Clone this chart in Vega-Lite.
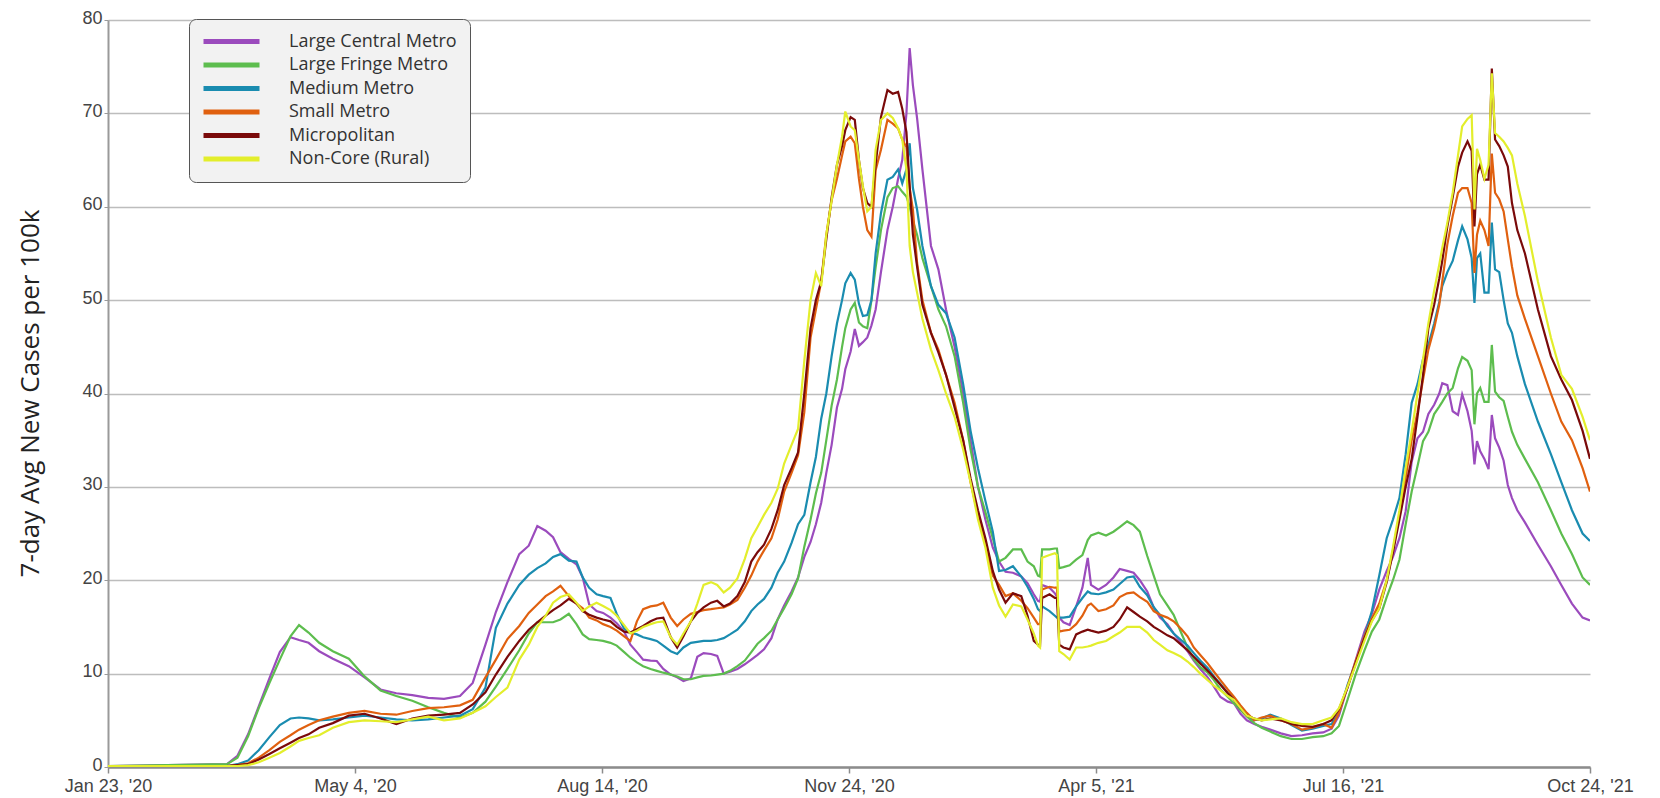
{
  "$schema": "https://vega.github.io/schema/vega-lite/v6.json",
  "width": 1482,
  "height": 747,
  "autosize": {"type": "none"},
  "padding": {"left": 108, "top": 20, "right": 70, "bottom": 31},
  "background": "white",
  "config": {"view": {"stroke": null}},
  "data": {"values": [
    {"d":0,"L":0.1,"F":0.1,"M":0.1,"S":0.1,"P":0.1,"R":0.1},
    {"d":51.4,"L":0.3,"F":0.3,"M":0.1,"S":0.1,"P":0.1,"R":0.1},
    {"d":55.9,"L":1.2,"F":1.0,"M":0.3,"S":0.2,"P":0.2,"R":0.1},
    {"d":60.5,"L":3.5,"F":3.3,"M":0.7,"S":0.4,"P":0.3,"R":0.2},
    {"d":65.1,"L":6.5,"F":6.3,"M":1.8,"S":1.0,"P":0.8,"R":0.5},
    {"d":69.7,"L":9.5,"F":9.0,"M":3.2,"S":1.8,"P":1.4,"R":1.0},
    {"d":74.2,"L":12.3,"F":11.5,"M":4.5,"S":2.7,"P":2.0,"R":1.5},
    {"d":78.8,"L":13.9,"F":14.0,"M":5.2,"S":3.4,"P":2.6,"R":2.2},
    {"d":82.5,"L":13.6,"F":15.2,"M":5.3,"S":4.0,"P":3.1,"R":2.8},
    {"d":86.6,"L":13.3,"F":14.4,"M":5.2,"S":4.5,"P":3.5,"R":3.1},
    {"d":91.2,"L":12.4,"F":13.3,"M":5.0,"S":5.0,"P":4.2,"R":3.4},
    {"d":97.1,"L":11.6,"F":12.4,"M":5.1,"S":5.4,"P":4.7,"R":4.2},
    {"d":104.0,"L":10.8,"F":11.6,"M":5.3,"S":5.8,"P":5.5,"R":4.8},
    {"d":110.8,"L":9.6,"F":9.7,"M":5.5,"S":6.0,"P":5.7,"R":5.0},
    {"d":117.7,"L":8.3,"F":8.2,"M":5.3,"S":5.7,"P":5.2,"R":4.9},
    {"d":124.5,"L":7.9,"F":7.6,"M":5.1,"S":5.6,"P":4.6,"R":4.8},
    {"d":131.4,"L":7.7,"F":7.1,"M":5.0,"S":6.0,"P":5.2,"R":5.1},
    {"d":138.3,"L":7.4,"F":6.4,"M":5.1,"S":6.3,"P":5.5,"R":5.4},
    {"d":145.1,"L":7.3,"F":5.8,"M":5.3,"S":6.4,"P":5.6,"R":5.0},
    {"d":152.0,"L":7.6,"F":5.3,"M":5.5,"S":6.6,"P":5.8,"R":5.2},
    {"d":157.5,"L":9.0,"F":5.8,"M":6.2,"S":7.2,"P":6.7,"R":5.8},
    {"d":163.0,"L":13.1,"F":7.0,"M":8.5,"S":9.6,"P":8.0,"R":6.5},
    {"d":167.5,"L":16.6,"F":8.6,"M":14.9,"S":11.5,"P":9.9,"R":7.5},
    {"d":172.5,"L":19.8,"F":10.5,"M":17.5,"S":13.7,"P":11.8,"R":8.5},
    {"d":177.6,"L":22.8,"F":12.5,"M":19.5,"S":15.1,"P":13.5,"R":11.5},
    {"d":181.7,"L":23.7,"F":14.3,"M":20.6,"S":16.5,"P":14.7,"R":13.1},
    {"d":185.4,"L":25.8,"F":15.5,"M":21.3,"S":17.4,"P":15.5,"R":15.0},
    {"d":189.0,"L":25.3,"F":15.5,"M":21.8,"S":18.3,"P":16.2,"R":16.2},
    {"d":192.2,"L":24.6,"F":15.5,"M":22.5,"S":18.8,"P":16.8,"R":17.6},
    {"d":195.4,"L":23.0,"F":15.8,"M":22.8,"S":19.4,"P":17.3,"R":18.2},
    {"d":199.0,"L":22.3,"F":16.4,"M":22.1,"S":18.3,"P":18.0,"R":18.5},
    {"d":202.3,"L":21.7,"F":15.3,"M":22.0,"S":17.5,"P":17.5,"R":17.6},
    {"d":205.0,"L":20.3,"F":14.2,"M":20.3,"S":17.0,"P":16.7,"R":16.7},
    {"d":207.8,"L":17.4,"F":13.7,"M":19.2,"S":16.0,"P":16.3,"R":17.2},
    {"d":211.0,"L":16.7,"F":13.6,"M":18.5,"S":15.7,"P":16.0,"R":17.6},
    {"d":213.8,"L":16.5,"F":13.5,"M":18.3,"S":15.3,"P":15.8,"R":17.25},
    {"d":217.0,"L":16.0,"F":13.3,"M":18.1,"S":15.0,"P":15.6,"R":16.8},
    {"d":219.7,"L":15.4,"F":13.0,"M":16.4,"S":14.6,"P":15.0,"R":16.2},
    {"d":222.9,"L":14.5,"F":12.3,"M":14.8,"S":14.0,"P":14.5,"R":15.2},
    {"d":225.6,"L":13.1,"F":11.7,"M":14.4,"S":13.5,"P":14.4,"R":14.3},
    {"d":228.4,"L":12.3,"F":11.2,"M":14.2,"S":15.6,"P":14.75,"R":14.6},
    {"d":231.1,"L":11.5,"F":10.8,"M":13.9,"S":16.9,"P":15.1,"R":15.0},
    {"d":234.3,"L":11.4,"F":10.5,"M":13.7,"S":17.2,"P":15.6,"R":15.3},
    {"d":237.0,"L":11.35,"F":10.3,"M":13.5,"S":17.3,"P":15.9,"R":15.5},
    {"d":239.8,"L":10.5,"F":10.1,"M":13.0,"S":17.6,"P":16.0,"R":15.6},
    {"d":243.0,"L":9.9,"F":9.9,"M":12.4,"S":16.0,"P":13.9,"R":13.9},
    {"d":245.8,"L":9.6,"F":9.7,"M":12.1,"S":15.1,"P":12.8,"R":13.1},
    {"d":248.5,"L":9.2,"F":9.4,"M":12.8,"S":15.8,"P":14.0,"R":14.3},
    {"d":251.7,"L":9.5,"F":9.4,"M":13.3,"S":16.4,"P":15.6,"R":15.6},
    {"d":254.5,"L":11.8,"F":9.6,"M":13.4,"S":16.6,"P":16.5,"R":17.5},
    {"d":257.2,"L":12.2,"F":9.75,"M":13.5,"S":16.8,"P":17.1,"R":19.5},
    {"d":260.4,"L":12.1,"F":9.8,"M":13.5,"S":16.9,"P":17.6,"R":19.8},
    {"d":263.1,"L":11.9,"F":9.9,"M":13.6,"S":17.0,"P":17.8,"R":19.5},
    {"d":265.9,"L":10.0,"F":10.0,"M":13.8,"S":17.1,"P":17.2,"R":18.7},
    {"d":268.6,"L":10.2,"F":10.3,"M":14.2,"S":17.4,"P":17.5,"R":19.2},
    {"d":271.8,"L":10.5,"F":10.8,"M":14.7,"S":17.9,"P":18.3,"R":20.2},
    {"d":275.0,"L":11.0,"F":11.4,"M":15.6,"S":19.2,"P":19.8,"R":22.3},
    {"d":277.8,"L":11.5,"F":12.3,"M":16.7,"S":20.5,"P":22.0,"R":24.5},
    {"d":280.5,"L":12.0,"F":13.2,"M":17.4,"S":22.0,"P":23.0,"R":25.7},
    {"d":283.3,"L":12.6,"F":13.8,"M":18.0,"S":23.2,"P":23.8,"R":27.0},
    {"d":286.5,"L":13.8,"F":14.6,"M":19.2,"S":24.5,"P":25.5,"R":28.3},
    {"d":289.2,"L":15.8,"F":15.8,"M":20.8,"S":26.5,"P":27.5,"R":29.8},
    {"d":292.0,"L":17.3,"F":17.0,"M":22.0,"S":29.5,"P":30.2,"R":32.5},
    {"d":295.2,"L":18.8,"F":18.5,"M":24.0,"S":31.5,"P":32.0,"R":34.5},
    {"d":298.0,"L":20.3,"F":20.2,"M":26.0,"S":33.4,"P":33.7,"R":36.2},
    {"d":300.7,"L":22.5,"F":23.6,"M":27.0,"S":38.0,"P":40.0,"R":43.5},
    {"d":303.4,"L":24.1,"F":26.5,"M":30.5,"S":46.0,"P":47.0,"R":50.0},
    {"d":305.7,"L":26.0,"F":29.3,"M":33.2,"S":49.0,"P":50.0,"R":52.9},
    {"d":308.0,"L":28.3,"F":31.5,"M":37.3,"S":52.0,"P":52.0,"R":51.5},
    {"d":310.2,"L":31.5,"F":35.0,"M":40.0,"S":57.0,"P":56.5,"R":57.0},
    {"d":312.5,"L":34.5,"F":38.7,"M":44.0,"S":60.7,"P":61.0,"R":60.7},
    {"d":314.8,"L":38.5,"F":41.5,"M":47.5,"S":63.0,"P":64.5,"R":64.5},
    {"d":317.0,"L":40.5,"F":45.0,"M":50.0,"S":65.5,"P":66.5,"R":67.5},
    {"d":318.4,"L":42.6,"F":47.0,"M":51.8,"S":67.0,"P":68.2,"R":70.2},
    {"d":320.7,"L":44.5,"F":49.0,"M":52.9,"S":67.5,"P":69.6,"R":68.6},
    {"d":322.5,"L":46.9,"F":49.7,"M":52.2,"S":66.8,"P":69.3,"R":68.2},
    {"d":324.3,"L":45.1,"F":47.6,"M":49.6,"S":63.0,"P":65.0,"R":65.0},
    {"d":326.0,"L":45.5,"F":47.2,"M":48.3,"S":60.0,"P":62.0,"R":62.2},
    {"d":327.9,"L":46.0,"F":47.0,"M":48.4,"S":57.5,"P":60.4,"R":59.5},
    {"d":329.7,"L":47.3,"F":50.0,"M":50.0,"S":56.8,"P":60.0,"R":60.0},
    {"d":331.5,"L":49.0,"F":53.5,"M":55.0,"S":63.9,"P":64.5,"R":66.1},
    {"d":333.8,"L":53.0,"F":57.5,"M":59.3,"S":66.1,"P":69.6,"R":69.3},
    {"d":336.6,"L":57.5,"F":61.0,"M":62.9,"S":69.3,"P":72.5,"R":70.0},
    {"d":338.9,"L":60.0,"F":62.0,"M":63.2,"S":68.9,"P":72.1,"R":69.5},
    {"d":341.2,"L":63.0,"F":62.2,"M":64.0,"S":68.4,"P":72.3,"R":68.4},
    {"d":343.0,"L":65.0,"F":61.6,"M":62.5,"S":67.2,"P":70.5,"R":67.2},
    {"d":344.8,"L":70.0,"F":61.1,"M":64.0,"S":66.4,"P":68.0,"R":64.0},
    {"d":346.2,"L":77.0,"F":60.0,"M":66.8,"S":62.0,"P":62.2,"R":55.8},
    {"d":347.6,"L":73.0,"F":58.5,"M":62.0,"S":59.7,"P":57.0,"R":53.0},
    {"d":349.4,"L":69.5,"F":57.0,"M":59.7,"S":54.0,"P":53.6,"R":50.8},
    {"d":351.7,"L":64.0,"F":54.5,"M":55.8,"S":50.0,"P":49.5,"R":48.0},
    {"d":355.4,"L":55.8,"F":51.5,"M":51.5,"S":46.5,"P":46.5,"R":44.7},
    {"d":358.6,"L":53.3,"F":49.0,"M":49.5,"S":44.7,"P":44.4,"R":42.5},
    {"d":361.9,"L":49.0,"F":47.2,"M":48.6,"S":42.0,"P":42.0,"R":40.0},
    {"d":365.6,"L":45.0,"F":44.0,"M":46.0,"S":39.0,"P":38.5,"R":37.5},
    {"d":369.3,"L":40.0,"F":39.0,"M":41.0,"S":35.0,"P":35.0,"R":34.0},
    {"d":372.5,"L":35.0,"F":34.0,"M":36.0,"S":30.5,"P":30.9,"R":30.5},
    {"d":375.7,"L":30.0,"F":30.0,"M":32.0,"S":27.0,"P":27.5,"R":26.5},
    {"d":378.9,"L":26.5,"F":27.3,"M":28.5,"S":23.8,"P":24.5,"R":23.5},
    {"d":382.1,"L":23.5,"F":24.5,"M":25.2,"S":20.5,"P":21.0,"R":19.2},
    {"d":384.8,"L":22.0,"F":22.0,"M":21.0,"S":19.5,"P":19.0,"R":17.3},
    {"d":387.6,"L":20.9,"F":22.4,"M":21.1,"S":18.3,"P":17.6,"R":16.1},
    {"d":390.8,"L":20.8,"F":23.3,"M":21.5,"S":18.6,"P":18.6,"R":17.4},
    {"d":394.4,"L":20.4,"F":23.3,"M":20.4,"S":17.8,"P":18.3,"R":17.2},
    {"d":397.1,"L":19.7,"F":22.0,"M":19.3,"S":17.0,"P":16.2,"R":15.8},
    {"d":399.8,"L":18.5,"F":21.5,"M":18.0,"S":16.0,"P":13.5,"R":14.3},
    {"d":401.6,"L":17.8,"F":20.5,"M":16.9,"S":15.3,"P":13.1,"R":13.0},
    {"d":402.5,"L":17.7,"F":20.4,"M":16.7,"S":15.3,"P":13.0,"R":12.8},
    {"d":403.4,"L":19.5,"F":23.3,"M":17.2,"S":19.0,"P":18.1,"R":22.4},
    {"d":406.6,"L":19.2,"F":23.3,"M":16.7,"S":19.3,"P":18.5,"R":22.7},
    {"d":408.9,"L":18.6,"F":23.4,"M":16.2,"S":19.2,"P":18.1,"R":22.9},
    {"d":409.8,"L":18.2,"F":23.4,"M":16.0,"S":19.2,"P":18.1,"R":22.7},
    {"d":410.8,"L":16.0,"F":21.3,"M":16.0,"S":14.5,"P":13.1,"R":12.4},
    {"d":412.6,"L":15.5,"F":21.4,"M":16.0,"S":14.6,"P":12.8,"R":12.1},
    {"d":415.3,"L":15.2,"F":21.6,"M":16.1,"S":14.7,"P":12.6,"R":11.5},
    {"d":418.1,"L":17.2,"F":22.2,"M":17.2,"S":15.3,"P":14.2,"R":12.8},
    {"d":420.8,"L":19.2,"F":22.7,"M":18.1,"S":16.2,"P":14.5,"R":12.8},
    {"d":423.1,"L":22.4,"F":24.3,"M":18.8,"S":17.3,"P":14.7,"R":12.9},
    {"d":424.5,"L":19.5,"F":24.8,"M":18.6,"S":17.5,"P":14.6,"R":13.0},
    {"d":427.7,"L":19.0,"F":25.1,"M":18.5,"S":16.7,"P":14.4,"R":13.3},
    {"d":431.0,"L":19.5,"F":24.8,"M":18.7,"S":16.9,"P":14.6,"R":13.5},
    {"d":434.2,"L":20.3,"F":25.2,"M":19.0,"S":17.3,"P":15.0,"R":14.0},
    {"d":436.9,"L":21.2,"F":25.7,"M":19.6,"S":18.2,"P":15.8,"R":14.4},
    {"d":440.1,"L":21.0,"F":26.3,"M":20.3,"S":18.6,"P":17.1,"R":15.0},
    {"d":442.9,"L":20.8,"F":25.9,"M":20.4,"S":18.7,"P":16.6,"R":15.0},
    {"d":445.6,"L":20.0,"F":25.2,"M":19.3,"S":18.2,"P":16.1,"R":15.0},
    {"d":448.8,"L":18.8,"F":22.6,"M":18.4,"S":17.7,"P":15.6,"R":14.4},
    {"d":451.6,"L":17.1,"F":20.5,"M":17.1,"S":16.7,"P":15.0,"R":13.6},
    {"d":454.3,"L":16.0,"F":18.5,"M":16.3,"S":16.3,"P":14.6,"R":13.1},
    {"d":457.5,"L":15.3,"F":17.3,"M":15.1,"S":16.0,"P":14.1,"R":12.5},
    {"d":460.2,"L":14.3,"F":16.3,"M":14.3,"S":15.6,"P":13.8,"R":12.2},
    {"d":463.4,"L":13.3,"F":14.4,"M":13.6,"S":14.8,"P":13.1,"R":11.8},
    {"d":466.2,"L":12.4,"F":12.8,"M":13.0,"S":14.0,"P":12.5,"R":11.3},
    {"d":468.9,"L":11.4,"F":11.5,"M":12.2,"S":12.8,"P":11.8,"R":10.7},
    {"d":471.7,"L":10.5,"F":10.7,"M":11.4,"S":12.0,"P":11.1,"R":10.0},
    {"d":474.9,"L":9.6,"F":10.1,"M":10.6,"S":11.1,"P":10.3,"R":9.3},
    {"d":477.6,"L":8.6,"F":9.3,"M":9.7,"S":10.2,"P":9.6,"R":8.7},
    {"d":480.4,"L":7.5,"F":8.3,"M":8.9,"S":9.3,"P":8.8,"R":8.2},
    {"d":483.6,"L":7.0,"F":7.5,"M":7.9,"S":8.3,"P":7.9,"R":7.6},
    {"d":486.3,"L":6.8,"F":6.8,"M":7.2,"S":7.5,"P":7.2,"R":7.2},
    {"d":489.1,"L":5.7,"F":6.1,"M":6.2,"S":6.6,"P":6.3,"R":6.3},
    {"d":491.8,"L":5.0,"F":5.4,"M":5.6,"S":5.8,"P":5.5,"R":5.5},
    {"d":495.0,"L":4.6,"F":4.7,"M":5.0,"S":5.0,"P":5.2,"R":5.2},
    {"d":498.2,"L":4.3,"F":4.2,"M":5.2,"S":5.3,"P":5.0,"R":5.0},
    {"d":501.9,"L":4.0,"F":3.8,"M":5.6,"S":5.5,"P":5.2,"R":5.1},
    {"d":506.5,"L":3.6,"F":3.3,"M":5.2,"S":5.0,"P":5.0,"R":5.2},
    {"d":511.1,"L":3.3,"F":3.0,"M":4.5,"S":4.6,"P":4.6,"R":4.8},
    {"d":515.6,"L":3.4,"F":3.0,"M":3.9,"S":4.0,"P":4.4,"R":4.6},
    {"d":520.2,"L":3.6,"F":3.2,"M":4.1,"S":4.2,"P":4.3,"R":4.6},
    {"d":524.8,"L":3.7,"F":3.3,"M":4.4,"S":4.6,"P":4.6,"R":5.0},
    {"d":528.4,"L":4.1,"F":3.6,"M":4.6,"S":4.2,"P":5.0,"R":5.3},
    {"d":531.6,"L":5.5,"F":4.4,"M":5.8,"S":5.8,"P":6.2,"R":6.3},
    {"d":535.3,"L":8.6,"F":7.2,"M":8.8,"S":8.6,"P":8.5,"R":8.6},
    {"d":538.9,"L":11.5,"F":10.0,"M":11.2,"S":11.4,"P":11.2,"R":11.0},
    {"d":542.6,"L":14.5,"F":12.5,"M":14.0,"S":14.0,"P":13.8,"R":13.5},
    {"d":545.8,"L":16.4,"F":14.5,"M":16.7,"S":15.9,"P":15.7,"R":15.6},
    {"d":549.0,"L":19.0,"F":15.8,"M":20.5,"S":17.5,"P":17.0,"R":17.0},
    {"d":552.2,"L":21.0,"F":18.2,"M":24.5,"S":20.0,"P":19.8,"R":20.0},
    {"d":554.9,"L":22.5,"F":20.0,"M":26.5,"S":23.2,"P":23.0,"R":23.5},
    {"d":557.7,"L":24.5,"F":22.2,"M":28.8,"S":27.0,"P":26.5,"R":27.5},
    {"d":560.4,"L":27.4,"F":26.0,"M":33.5,"S":31.0,"P":30.0,"R":32.0},
    {"d":563.0,"L":32.7,"F":29.5,"M":39.0,"S":35.0,"P":33.0,"R":35.9},
    {"d":565.5,"L":35.2,"F":32.2,"M":41.0,"S":38.0,"P":37.5,"R":40.0},
    {"d":567.9,"L":35.9,"F":34.9,"M":43.7,"S":41.5,"P":42.0,"R":43.7},
    {"d":570.2,"L":37.8,"F":35.9,"M":45.2,"S":44.7,"P":47.0,"R":47.5},
    {"d":572.7,"L":38.8,"F":37.8,"M":47.5,"S":47.0,"P":49.5,"R":51.0},
    {"d":574.9,"L":40.0,"F":38.6,"M":49.8,"S":49.5,"P":52.3,"R":53.8},
    {"d":576.2,"L":41.1,"F":39.1,"M":51.5,"S":52.0,"P":54.2,"R":55.6},
    {"d":578.4,"L":40.9,"F":40.0,"M":53.0,"S":56.0,"P":57.9,"R":58.3},
    {"d":580.7,"L":38.1,"F":40.6,"M":54.2,"S":59.0,"P":61.0,"R":61.5},
    {"d":583.0,"L":37.7,"F":42.7,"M":56.4,"S":61.5,"P":64.3,"R":65.5},
    {"d":584.8,"L":39.9,"F":43.9,"M":57.9,"S":62.0,"P":65.8,"R":68.6},
    {"d":587.1,"L":38.1,"F":43.5,"M":56.5,"S":62.0,"P":67.0,"R":69.4},
    {"d":588.9,"L":36.0,"F":42.5,"M":54.5,"S":60.4,"P":66.0,"R":69.8},
    {"d":590.1,"L":32.4,"F":36.7,"M":49.7,"S":52.9,"P":57.9,"R":59.7},
    {"d":591.2,"L":34.9,"F":40.0,"M":54.5,"S":57.0,"P":63.5,"R":66.2},
    {"d":592.6,"L":33.8,"F":40.6,"M":55.0,"S":58.5,"P":64.5,"R":65.0},
    {"d":594.4,"L":33.0,"F":39.1,"M":50.8,"S":57.5,"P":62.9,"R":63.0},
    {"d":596.2,"L":31.9,"F":39.1,"M":50.8,"S":55.8,"P":62.9,"R":64.5},
    {"d":597.6,"L":37.7,"F":45.2,"M":58.3,"S":65.7,"P":74.8,"R":74.3},
    {"d":599.0,"L":35.2,"F":40.2,"M":53.3,"S":61.5,"P":67.2,"R":67.9},
    {"d":600.8,"L":34.2,"F":39.6,"M":53.0,"S":60.8,"P":66.5,"R":67.5},
    {"d":602.7,"L":32.8,"F":39.2,"M":50.0,"S":59.5,"P":65.5,"R":67.0},
    {"d":604.5,"L":30.2,"F":37.5,"M":47.5,"S":56.5,"P":64.3,"R":66.3},
    {"d":606.3,"L":28.8,"F":35.9,"M":46.5,"S":53.6,"P":60.4,"R":65.5},
    {"d":608.6,"L":27.5,"F":34.5,"M":44.0,"S":50.5,"P":57.5,"R":62.5},
    {"d":611.9,"L":26.2,"F":33.0,"M":41.0,"S":48.0,"P":55.0,"R":59.0},
    {"d":617.5,"L":23.8,"F":30.5,"M":37.0,"S":44.0,"P":49.0,"R":52.0},
    {"d":623.1,"L":21.5,"F":27.5,"M":33.5,"S":40.0,"P":44.0,"R":46.0},
    {"d":627.6,"L":19.5,"F":25.0,"M":30.5,"S":37.0,"P":41.5,"R":42.0},
    {"d":632.2,"L":17.5,"F":22.8,"M":27.5,"S":35.0,"P":39.3,"R":40.5},
    {"d":636.8,"L":16.0,"F":20.3,"M":25.0,"S":32.0,"P":36.0,"R":37.5},
    {"d":640.0,"L":15.7,"F":19.5,"M":24.2,"S":29.5,"P":33.0,"R":35.0}
  ]},
  "transform": [{"fold": ["L", "F", "M", "S", "P", "R"], "as": ["series", "value"]}],
  "mark": {"type": "line", "strokeWidth": 2.2, "clip": true},
  "encoding": {
    "x": {
      "field": "d",
      "type": "quantitative",
      "scale": {"domain": [0, 640], "nice": false, "zero": false},
      "axis": {
        "title": null,
        "values": [0, 106.6667, 213.3333, 320, 426.6667, 533.3333, 640],
        "labelExpr": "[\"Jan 23, '20\", \"May 4, '20\", \"Aug 14, '20\", \"Nov 24, '20\", \"Apr 5, '21\", \"Jul 16, '21\", \"Oct 24, '21\"][round(datum.value / 106.6667)]",
        "grid": false,
        "domainColor": "#8c8c8c",
        "domainWidth": 2.5,
        "tickColor": "#8c8c8c",
        "tickWidth": 1.5,
        "tickSize": 6,
        "labelFont": "Liberation Sans",
        "labelFontSize": 18,
        "labelColor": "#444444",
        "labelPadding": 4,
        "labelFlush": false,
        "labelOverlap": false
      }
    },
    "y": {
      "field": "value",
      "type": "quantitative",
      "scale": {"domain": [0, 80], "nice": false},
      "axis": {
        "values": [0, 10, 20, 30, 40, 50, 60, 70, 80],
        "title": "7-day Avg New Cases per 100k",
        "titleFont": "Open Sans",
        "titleFontSize": 26,
        "titleFontWeight": "normal",
        "titleColor": "#222222",
        "titleAngle": -90,
        "titleX": -78,
        "titleY": 373,
        "titleAlign": "center",
        "titleBaseline": "middle",
        "grid": true,
        "gridColor": "#bdbdbd",
        "gridWidth": 1.5,
        "domainColor": "#9a9a9a",
        "domainWidth": 2,
        "tickColor": "#9a9a9a",
        "tickSize": 4,
        "labelFont": "Liberation Sans",
        "labelFontSize": 18,
        "labelOffset": -2,
        "labelColor": "#444444",
        "labelPadding": 2
      }
    },
    "color": {
      "field": "series",
      "type": "nominal",
      "scale": {
        "domain": ["L", "F", "M", "S", "P", "R"],
        "range": ["#9b4bbd", "#5dbd4e", "#1a8cb0", "#e0600f", "#7a0a0a", "#e3ee2c"]
      },
      "legend": {
        "orient": "none",
        "legendX": 81,
        "legendY": -1,
        "title": null,
        "symbolType": "M-4,0H4",
        "symbolSize": 196,
        "symbolStrokeWidth": 5,
        "symbolOffset": 20,
        "labelFont": "Open Sans",
        "labelFontSize": 18,
        "labelColor": "#333333",
        "labelOffset": 48,
        "labelLimit": 300,
        "rowPadding": 2.5,
        "padding": 13,
        "fillColor": "#f2f2f2",
        "strokeColor": "#555555",
        "cornerRadius": 7,
        "labelExpr": "datum.label == 'L' ? 'Large Central Metro' : datum.label == 'F' ? 'Large Fringe Metro' : datum.label == 'M' ? 'Medium Metro' : datum.label == 'S' ? 'Small Metro' : datum.label == 'P' ? 'Micropolitan' : 'Non-Core (Rural)'"
      }
    }
  }
}
